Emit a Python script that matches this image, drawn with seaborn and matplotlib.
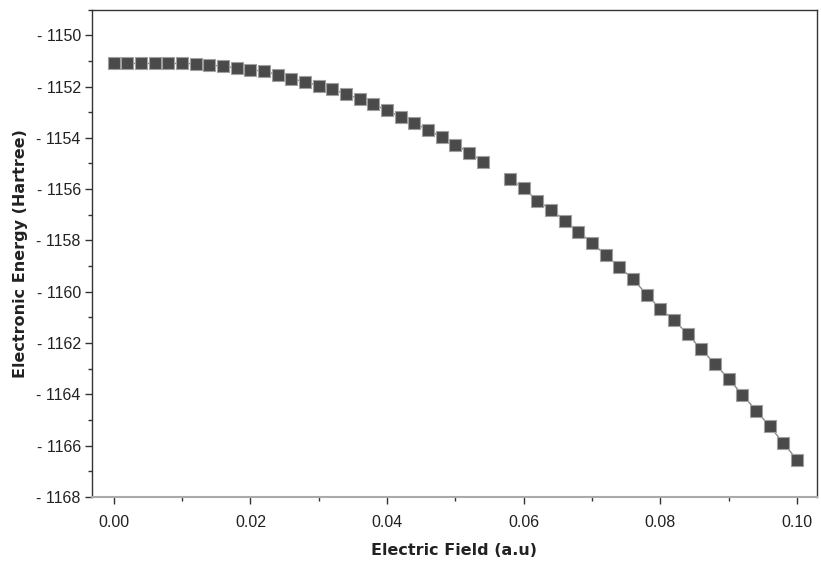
import numpy as np
import pandas as pd
import matplotlib
matplotlib.use("Agg")
import matplotlib.pyplot as plt
from matplotlib.ticker import MultipleLocator, FuncFormatter
import seaborn as sns

field = [0.000, 0.002, 0.004, 0.006, 0.008, 0.010, 0.012, 0.014, 0.016, 0.018,
         0.020, 0.022, 0.024, 0.026, 0.028, 0.030, 0.032, 0.034, 0.036, 0.038,
         0.040, 0.042, 0.044, 0.046, 0.048, 0.050, 0.052, 0.054, 0.056, 0.058,
         0.060, 0.062, 0.064, 0.066, 0.068, 0.070, 0.072, 0.074, 0.076, 0.078,
         0.080, 0.082, 0.084, 0.086, 0.088, 0.090, 0.092, 0.094, 0.096, 0.098,
         0.100]
energy = [-1151.10, -1151.10, -1151.10, -1151.10, -1151.10, -1151.10, -1151.11,
          -1151.16, -1151.21, -1151.28, -1151.34, -1151.41, -1151.54, -1151.69,
          -1151.82, -1151.97, -1152.11, -1152.30, -1152.49, -1152.69, -1152.93,
          -1153.19, -1153.42, -1153.70, -1153.97, -1154.27, -1154.58, -1154.93,
          np.nan, -1155.61, -1155.97, -1156.45, -1156.81, -1157.23, -1157.66,
          -1158.10, -1158.57, -1159.03, -1159.51, -1160.11, -1160.68, -1161.10,
          -1161.66, -1162.25, -1162.82, -1163.40, -1164.01, -1164.63, -1165.25,
          -1165.90, -1166.55]

x_ticks = [0.00, 0.02, 0.04, 0.06, 0.08, 0.10]
y_ticks = [-1150, -1152, -1154, -1156, -1158, -1160, -1162, -1164, -1166, -1168]

df = pd.DataFrame({"field": field, "energy": energy})
df["segment"] = df["energy"].isna().cumsum()
df_valid = df.dropna()

sns.set_style("ticks")
plt.rcParams["font.family"] = ["Liberation Sans", "DejaVu Sans"]

fig = plt.figure(figsize=(8.21, 5.62), dpi=100)
ax = fig.add_axes([0.112, 0.1157, 0.883, 0.8673])

sns.lineplot(data=df_valid, x="field", y="energy", units="segment", estimator=None,
             color="#8a8a8a", linewidth=1.0, ax=ax, sort=False, zorder=2)
sns.scatterplot(data=df_valid, x="field", y="energy", marker="s", s=85,
                color="#4a4a4a", edgecolor="#a0a0a0", linewidth=0.8, ax=ax, zorder=3)

ax.set_xlim(-0.0032, 0.1029)
ax.set_ylim(-1168, -1149.0)
ax.set_xticks(x_ticks)
ax.set_yticks(y_ticks)
ax.xaxis.set_minor_locator(MultipleLocator(0.01))
ax.yaxis.set_minor_locator(MultipleLocator(1))
ax.xaxis.set_major_formatter(FuncFormatter(lambda v, p: f"{v:.2f}"))
ax.yaxis.set_major_formatter(FuncFormatter(lambda v, p: f"- {abs(int(round(v)))}"))

ax.tick_params(axis="both", which="major", direction="out", length=5, width=1,
               color="#333333", labelsize=11.5, labelcolor="#222222")
ax.tick_params(axis="both", which="minor", direction="out", length=3, width=1,
               color="#333333")
ax.tick_params(axis="x", pad=8)
ax.tick_params(axis="y", pad=3)

for side in ["left", "bottom", "top", "right"]:
    ax.spines[side].set_visible(True)
    ax.spines[side].set_linewidth(1.0)
    ax.spines[side].set_color("#333333")
ax.spines["bottom"].set_color("#aaaaaa")
ax.spines["bottom"].set_linewidth(1.5)

ax.set_xlabel("Electric Field (a.u)", fontsize=11.5, fontweight="bold",
              family="DejaVu Sans", color="#222222", labelpad=9)
ax.set_ylabel("Electronic Energy (Hartree)", fontsize=11.5, fontweight="bold",
              family="DejaVu Sans", color="#222222", labelpad=6)

fig.savefig("out.png", dpi=100)
